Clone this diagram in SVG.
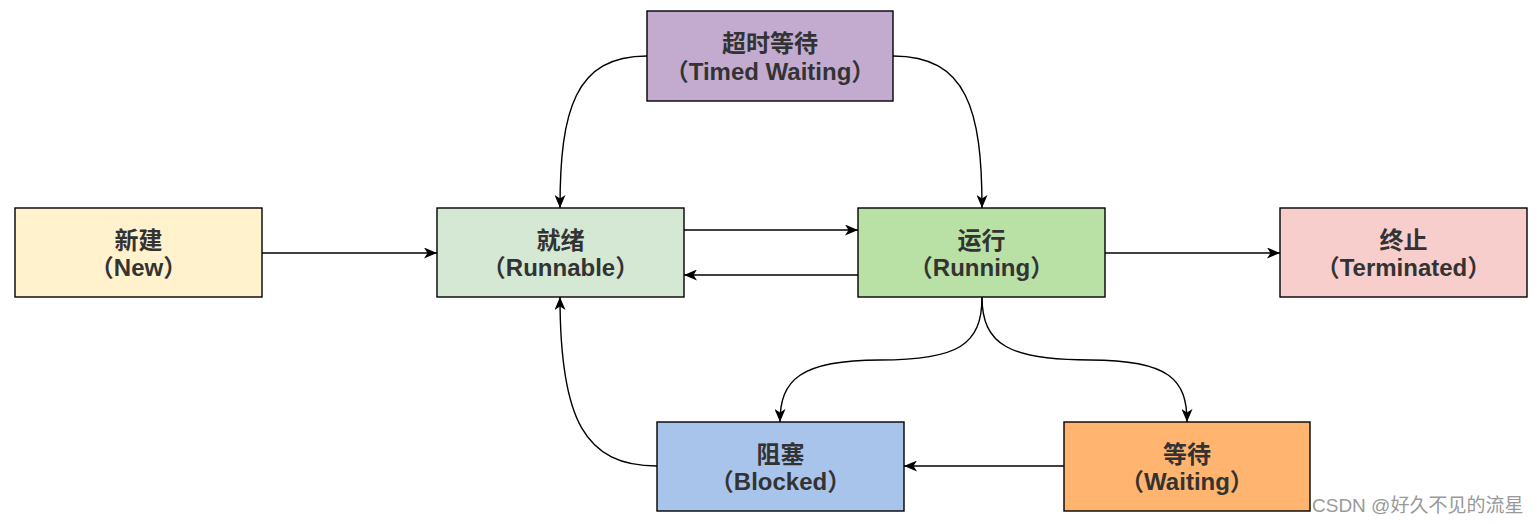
<svg xmlns="http://www.w3.org/2000/svg" width="1539" height="524" viewBox="0 0 1539 524">
<defs>
<marker id="arr" viewBox="0 0 13 11" refX="13" refY="5.5" markerWidth="13" markerHeight="11" markerUnits="userSpaceOnUse" orient="auto">
<path d="M0,0 L13,5.5 L0,11 L3.5,5.5 Z" fill="#000"/>
</marker>
<style>
.box{stroke:#000;stroke-width:1.4}
.t{font-family:"Liberation Sans","Noto Sans CJK SC",sans-serif;font-weight:bold;font-size:24px;fill:#333;text-anchor:middle}
.c{fill:none;stroke:#000;stroke-width:1.4;marker-end:url(#arr)}
</style>
</defs>
<rect width="1539" height="524" fill="#fff"/>
<g id="connectors">
<path class="c" d="M262,253 L437,253"/>
<path class="c" d="M684,230 L858,230"/>
<path class="c" d="M858,275 L684,275"/>
<path class="c" d="M1105,253 L1280,253"/>
<path class="c" d="M647,56 C575,56 560,110 560,208"/>
<path class="c" d="M893,56 C967,56 982,110 982,208"/>
<path class="c" d="M982,297 C982,345 958,360 880,360 C800,360 780,380 780,422"/>
<path class="c" d="M982,297 C982,345 1010,360 1090,360 C1170,360 1187,380 1187,422"/>
<path class="c" d="M1064,466 L904,466"/>
<path class="c" d="M657,466 C585,466 560,420 560,297"/>
</g>
<g id="new"><rect class="box" x="15" y="208" width="247" height="89" fill="#fff2cc"/><text class="t" x="138.5" y="249">新建</text><text class="t" x="138.5" y="276">（New）</text></g>
<g id="runnable"><rect class="box" x="437" y="208" width="247" height="89" fill="#d5e8d4"/><text class="t" x="560.5" y="249">就绪</text><text class="t" x="560.5" y="276">（Runnable）</text></g>
<g id="running"><rect class="box" x="858" y="208" width="247" height="89" fill="#b9e0a5"/><text class="t" x="981.5" y="249">运行</text><text class="t" x="981.5" y="276">（Running）</text></g>
<g id="terminated"><rect class="box" x="1280" y="208" width="247" height="89" fill="#f8cecc"/><text class="t" x="1403.5" y="249">终止</text><text class="t" x="1403.5" y="276">（Terminated）</text></g>
<g id="timedwaiting"><rect class="box" x="647" y="11" width="246" height="90" fill="#c3abd0"/><text class="t" x="770" y="52">超时等待</text><text class="t" x="770" y="80">（Timed Waiting）</text></g>
<g id="blocked"><rect class="box" x="657" y="422" width="247" height="89" fill="#a9c4eb"/><text class="t" x="780.5" y="463">阻塞</text><text class="t" x="780.5" y="490">（Blocked）</text></g>
<g id="waiting"><rect class="box" x="1064" y="422" width="246" height="89" fill="#ffb570"/><text class="t" x="1187" y="463">等待</text><text class="t" x="1187" y="490">（Waiting）</text></g>
<text x="1312" y="512" font-family="'Liberation Sans','Noto Sans CJK SC',sans-serif" font-size="19" fill="#999">CSDN @好久不见的流星</text>
</svg>
